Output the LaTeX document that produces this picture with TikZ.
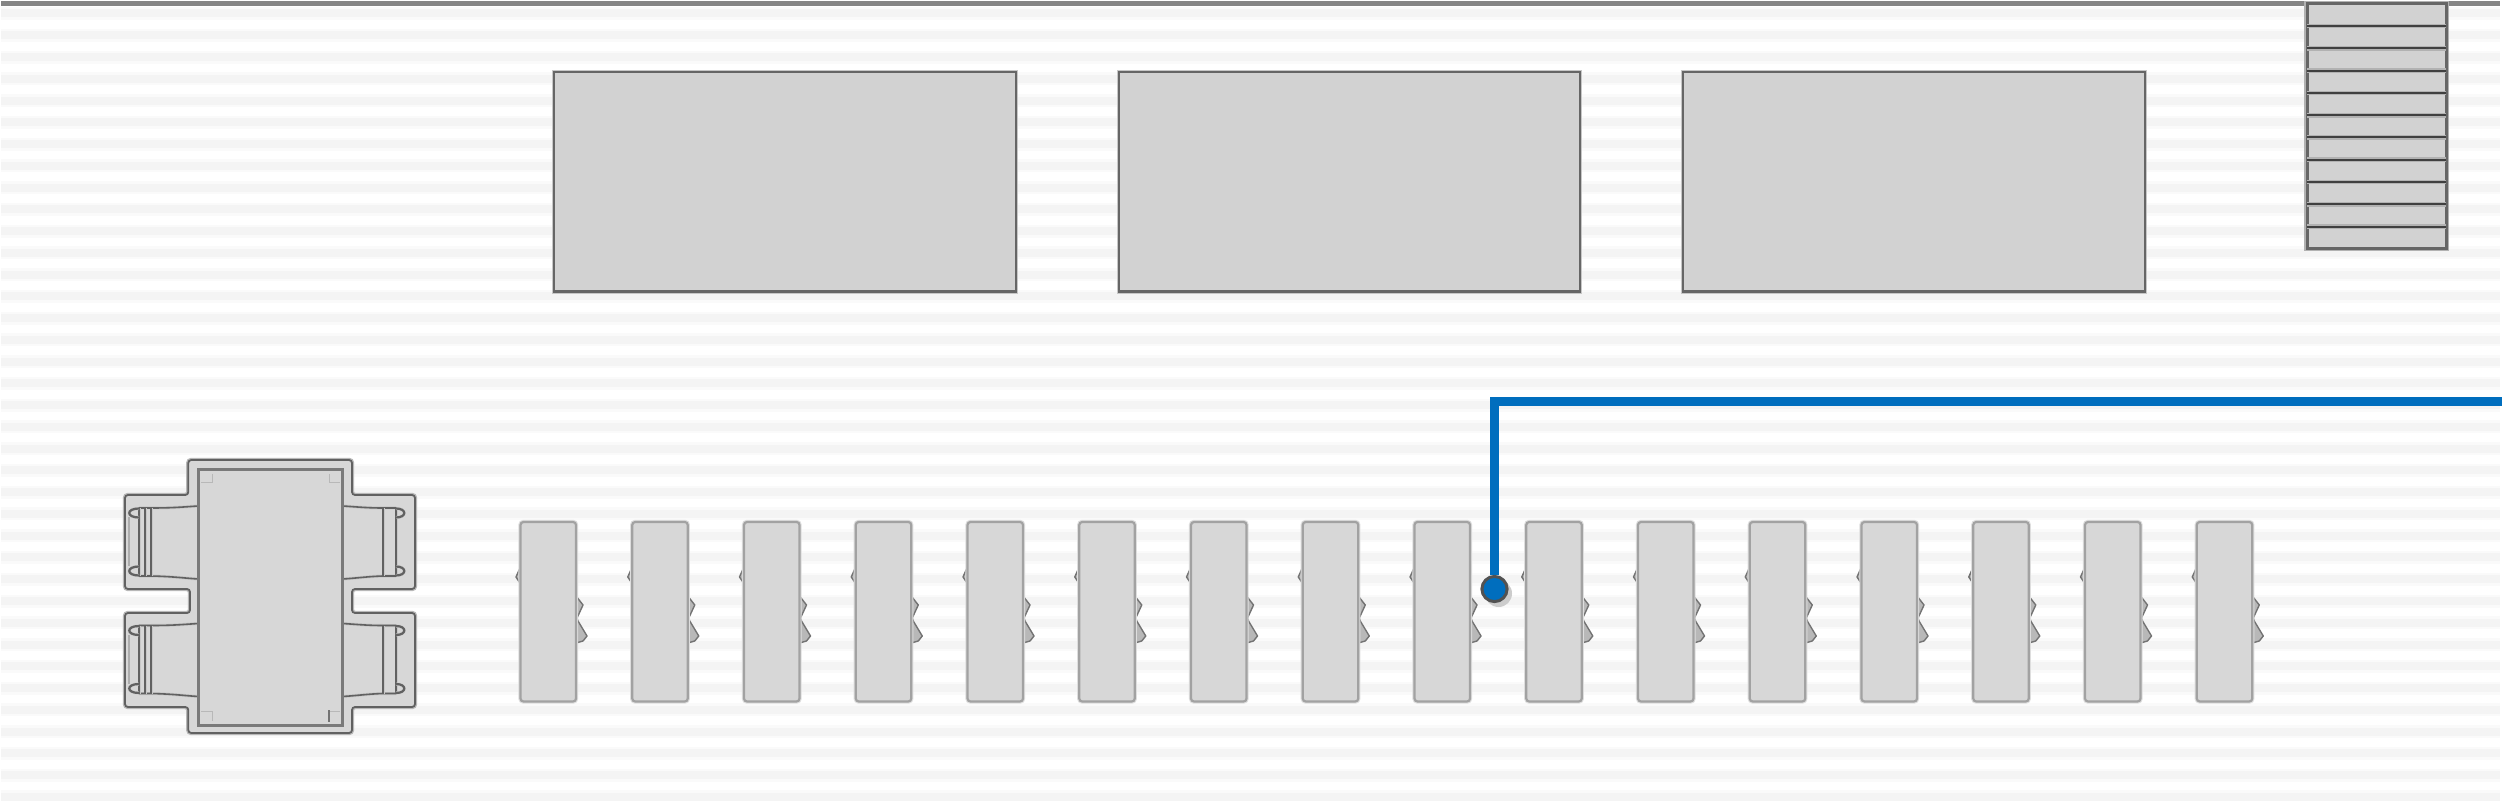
\documentclass[tikz,border=0pt]{standalone}
\usepackage{tikz}
\definecolor{stripeA}{HTML}{FAFAFA}
\definecolor{stripeB}{HTML}{F4F4F4}
\definecolor{topline}{HTML}{858585}
\definecolor{boxfill}{HTML}{D2D2D2}
\definecolor{deskfill}{HTML}{D7D7D7}
\definecolor{darkline}{HTML}{666666}
\definecolor{midline}{HTML}{A2A2A2}
\definecolor{bluewire}{HTML}{006EBE}
\tikzset{
  x=0.5pt,y=-0.5pt,
  bigbox/.style={fill=boxfill,draw=darkline,line width=1.2pt,
    preaction={draw=black!22,line width=2.4pt}},
  stairbox/.style={fill=boxfill,draw=darkline,line width=1.5pt,
    preaction={draw=black!30,line width=2.8pt}},
  tread/.style={draw=black!30,line width=2.4pt,
    postaction={draw=black!75,line width=1.1pt}},
  desk/.style={fill=deskfill,draw=midline,line width=1.1pt,rounded corners=1.5pt,
    preaction={draw=black!13,line width=2.2pt}},
  deskhw/.style={fill=black!28,draw=black!55,line width=.7pt,line join=round},
  outline/.style={fill=deskfill,draw=black!62,line width=.9pt,rounded corners=1.5pt,
    preaction={draw=black!28,line width=2.2pt}},
  tabletop/.style={fill=deskfill,draw=black!52,line width=1.5pt},
  chairline/.style={draw=black!62,line width=.8pt,
    preaction={draw=black!22,line width=1.5pt}},
  chairsoft/.style={draw=black!32,line width=.7pt},
  cornermark/.style={draw=black!28,line width=.45pt},
  wire/.style={draw=bluewire,line width=4.4pt},
  dotstyle/.style={circle,fill=bluewire,draw=black!68,line width=1.5pt,minimum size=12.6pt,inner sep=0pt},
}
% #1 table edge x, #2 direction (+1 outward to the right, -1 to the left), #3 centre y, #4 first upright, #5 ear start, #6 ear end
\newcommand{\chairplan}[6]{%
  \begin{scope}[shift={(#1,#3)},xscale=#2]
    \draw[chairline] (0,-36.5) .. controls (15,-35.5) and (25,-34.5) .. (#4,-34.5) -- (#5,-34.5);
    \draw[chairline] (0,36.5) .. controls (15,35.5) and (25,34) .. (#4,33.5) -- (#5,33.5);
    \draw[chairline] (#4,-34.5) -- (#4,33.5);
    \draw[chairline] (#5,-34.5) -- (#5,33.5);
    \draw[chairline,line width=1.1pt] (#5,-34) .. controls (#6,-34) and (#6,-25) .. (#5,-25);
    \draw[chairline,line width=1.1pt] (#5,33) .. controls (#6,33) and (#6,24) .. (#5,24);
  \end{scope}}
\begin{document}
\begin{tikzpicture}
\useasboundingbox (0,0) rectangle (2510,801);
\fill[white] (0,0) rectangle (2510,801);
% striped ground
\foreach \n in {0,...,36}{
  \pgfmathsetmacro{\yc}{13.5+21.76*\n}
  \pgfmathsetmacro{\ya}{min(\yc+6.5,801)}
  \pgfmathsetmacro{\yb}{min(\yc+4,801)}
  \fill[stripeA] (1,\yc-6.5) rectangle (2500,\ya);
  \fill[stripeB] (1,\yc-4) rectangle (2500,\yb);
}
\fill[topline] (1,1) rectangle (2500,6);
% large boxes
\path[bigbox] (554,72) rectangle (1016,291.5);
\path[bigbox] (1119,72) rectangle (1580,291.5);
\path[bigbox] (1683,72) rectangle (2145,291.5);
% stair
\path[stairbox] (2307,4) rectangle (2446,248.5);
\foreach \yy in {26,48.3,70.7,93,115.3,137.3,159.7,182,204.3,226.7}
  \path[tread] (2307,\yy) -- (2446,\yy);
% table group
\path[outline] (188.3,460) -- (352,460) -- (352,495) -- (415,495) -- (415,589) -- (352,589)
  -- (352,613) -- (415,613) -- (415,707) -- (352,707) -- (352,733) -- (188.3,733)
  -- (188.3,707) -- (125,707) -- (125,613) -- (190,613) -- (190,589) -- (125,589)
  -- (125,495) -- (188.3,495) -- cycle;
\chairplan{198}{-1}{542.5}{47}{59}{72}
\chairplan{198}{-1}{660}{47}{59}{72}
\chairplan{343}{1}{542.5}{40}{53}{64}
\chairplan{343}{1}{660}{40}{53}{64}
\foreach \yc in {542.5,660}{
  \draw[chairline] (145,\yc-34.5) -- (145,\yc+33.5);
  \draw[chairsoft] (129,\yc-25) -- (129,\yc+24);
}
\path[tabletop] (198.5,470) rectangle (342.5,725);
\draw[cornermark] (201,482) -- (212,482) (212,474) -- (212,483);
\draw[cornermark] (329,474) -- (329,483) (329,482) -- (340,482);
\draw[cornermark] (201,711) -- (212,711) (212,711) -- (212,721);
\draw[cornermark] (329,711) -- (340,711);
\draw[cornermark,draw=black!55,line width=.7pt] (329,710) -- (329,722);
% desks
\foreach \n in {0,...,15}{
  \begin{scope}[xshift={\n*111.75*0.5pt}]
    \path[deskhw] (576,596) -- (583,605) -- (577,618) -- (578,621) -- (587,636) -- (583,641) -- (576,643) -- cycle;
    \path[deskhw] (520,568) -- (516,577) -- (520,583) -- cycle;
    \path[desk] (520.5,522) rectangle (576,701.5);
  \end{scope}
}
% connector
\fill[black!20] (1498.5,593.5) circle[radius=13.5];
\node[dotstyle] (dot) at (1494.5,589) {};
\coordinate (wireend) at (2501.7,401.7);
\draw[wire] (wireend) -| (dot);
\end{tikzpicture}
\end{document}
